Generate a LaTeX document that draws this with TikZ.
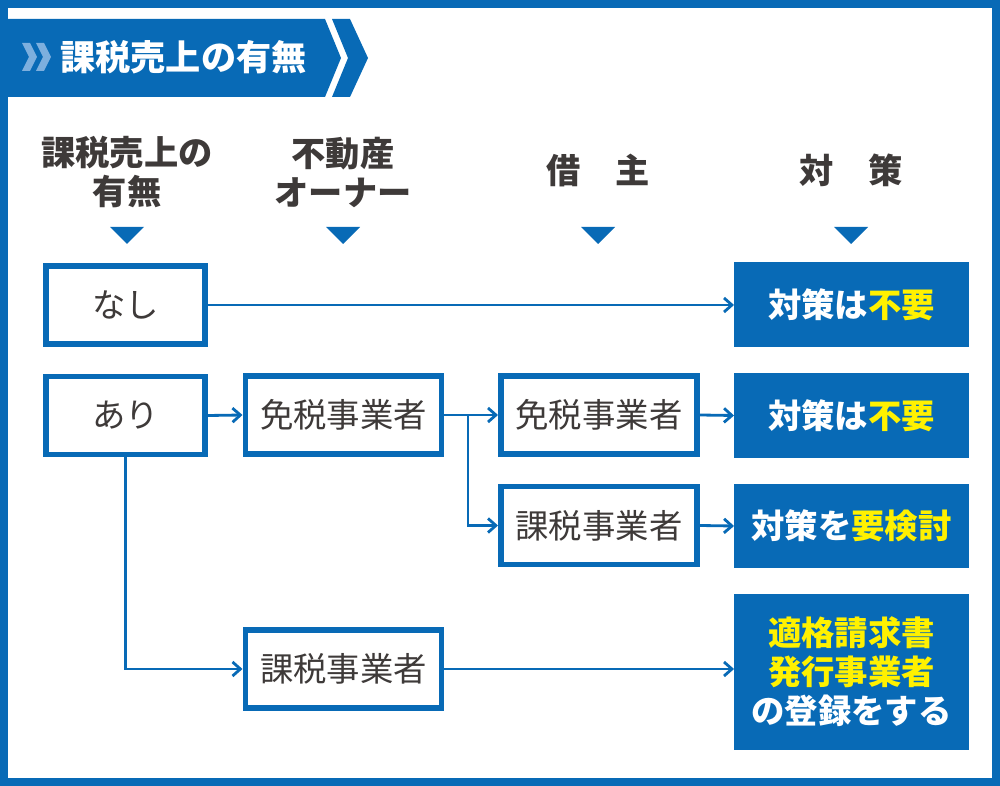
\documentclass[tikz,border=0pt]{standalone}
\usepackage{fontspec}
\setmainfont{Noto Sans CJK JP}
\usetikzlibrary{arrows.meta,positioning,calc}
\definecolor{taxBlue}{RGB}{8,106,182}
\definecolor{chevLight}{RGB}{125,175,222}
\definecolor{inkGray}{RGB}{62,58,57}
\definecolor{hiYellow}{RGB}{255,241,0}

\begin{document}
\begin{tikzpicture}[
  x=0.02cm,y=-0.02cm,
  >={Straight Barb[length=4.5pt,width=8pt]},
  hd/.style={font=\fontsize{19.5}{22.2}\selectfont\bfseries,text=inkGray,align=center},
  ob/.style={draw=taxBlue,line width=0.11cm,fill=white,minimum height=1.57cm,font=\fontsize{19}{22}\selectfont,text=inkGray,inner sep=0pt},
  obs/.style={ob,minimum width=3.19cm},
  obw/.style={ob,minimum width=3.93cm},
  res/.style={fill=taxBlue,minimum width=4.7cm,minimum height=1.7cm,font=\fontsize{19}{22.2}\selectfont\bfseries,text=white,align=center,inner sep=0pt,outer sep=0pt},
  arr/.style={->,draw=taxBlue,line width=1.6pt}
]
  \useasboundingbox (0,0) rectangle (1000,786);
  % Frame and title banner
  \draw[taxBlue,line width=0.16cm] (4,4) rectangle (996,782);
  \fill[taxBlue] (8,19) -- (325,19) -- (341,58) -- (325,97) -- (8,97) -- cycle;
  \fill[taxBlue] (332,19) -- (350,19) -- (368,58) -- (350,97) -- (332,97) -- (348,58) -- cycle;
  \foreach \dx in {0,14} {
    \fill[chevLight] (22+\dx,43) -- (30+\dx,43) -- (37+\dx,57) -- (30+\dx,71) -- (22+\dx,71) -- (29+\dx,57) -- cycle;
  }
  \node[font=\fontsize{20}{24}\selectfont\bfseries,text=white] (title) at (183.5,57) {課税売上の有無};

  % Column heads
  \node[hd] (hSales) at (127,172) {課税売上の\\有無};
  \node[hd] (hOwner) at (343,172) {不動産\\オーナー};
  \node[hd] (hTenant) at (598,170) {借　主};
  \node[hd] (hPlan) at (851,170) {対　策};
  \foreach \cx in {127,343,598,851} {
    \fill[taxBlue] (\cx-17,227) -- (\cx+17,227) -- (\cx,244) -- cycle;
  }

  % Boxes
  \node[obs] (nashi) at (125.5,305) {なし};
  \node[obs] (ari) at (125.5,415.5) {あり};
  \node[obw] (oMen) at (343.5,415) {免税事業者};
  \node[obw] (bMen) at (599,415) {免税事業者};
  \node[obw] (bKa) at (599,525.5) {課税事業者};
  \node[obw] (oKa) at (343.5,669) {課税事業者};

  % Results
  \node[res] (r1) at (851.5,304.5) {対策は\textcolor{hiYellow}{不要}};
  \node[res] (r2) at (851.5,415.5) {対策は\textcolor{hiYellow}{不要}};
  \node[res] (r3) at (851.5,526) {対策を\textcolor{hiYellow}{要検討}};
  \node[res,minimum height=3.12cm] (r4) at (851.5,672)
    {\textcolor{hiYellow}{適格請求書}\\\textcolor{hiYellow}{発行事業者}\\の登録をする};

  % Connectors
  \coordinate (split) at (468,415);
  \draw[arr] (nashi.east) -- (nashi.east -| r1.west);
  \draw[arr] (ari.east) -- (oMen.west);
  \draw[arr] (oMen.east) -- (bMen.west);
  \draw[arr] (split) |- (bKa.west);
  \draw[arr] (bMen.east) -- (r2.west);
  \draw[arr] (bKa.east) -- (r3.west);
  \draw[arr] (ari.south) |- (oKa.west);
  \draw[arr] (oKa.east) -- (oKa.east -| r4.west);
\end{tikzpicture}
\end{document}
